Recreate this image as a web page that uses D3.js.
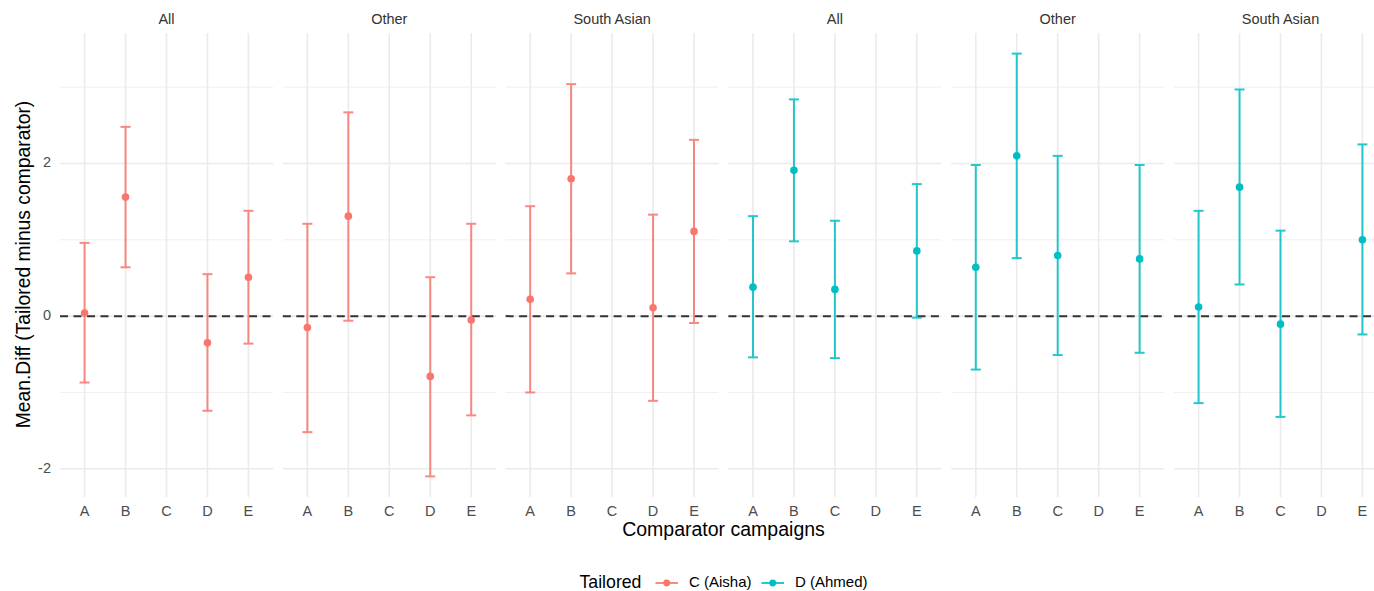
<!DOCTYPE html>
<html>
<head>
<meta charset="utf-8">
<script src="https://cdn.jsdelivr.net/npm/d3@7"></script>
<style>
  html, body { margin: 0; padding: 0; background: #fff; }
  svg { display: block; font-family: "Liberation Sans", Arial, Helvetica, sans-serif; }
</style>
</head>
<body>
<svg id="chart" width="1374" height="591"></svg>
<script>
// ---------------- data ----------------
const campaigns = ["A", "B", "C", "D", "E"];
const groups = ["All", "Other", "South Asian"];
const tailored = ["C (Aisha)", "D (Ahmed)"];
const yTicks = [-2, 0, 2];
const yMinor = [-1, 1, 3];

// C (Aisha) : per group, per campaign -> [mean, lower, upper] (null = no estimate)
const aishaAll   = [[0.04, -0.87, 0.96], [1.56, 0.64, 2.48], null, [-0.35, -1.24, 0.55], [0.51, -0.36, 1.38]];
const aishaOther = [[-0.15, -1.52, 1.21], [1.31, -0.06, 2.67], null, [-0.79, -2.10, 0.51], [-0.05, -1.30, 1.21]];
const aishaSA    = [[0.22, -1.00, 1.44], [1.80, 0.56, 3.04], null, [0.11, -1.11, 1.33], [1.11, -0.09, 2.31]];
// D (Ahmed)
const ahmedAll   = [[0.38, -0.54, 1.31], [1.91, 0.98, 2.84], [0.35, -0.55, 1.25], null, [0.855, -0.02, 1.73]];
const ahmedOther = [[0.64, -0.70, 1.98], [2.10, 0.76, 3.44], [0.795, -0.51, 2.10], null, [0.75, -0.48, 1.98]];
const ahmedSA    = [[0.12, -1.14, 1.38], [1.69, 0.415, 2.97], [-0.105, -1.32, 1.12], null, [1.00, -0.24, 2.25]];

const colors = ["#F8766D", "#00BFC4"];

// build panel list
const panelData = [
  { tailored: 0, group: 0, values: aishaAll },
  { tailored: 0, group: 1, values: aishaOther },
  { tailored: 0, group: 2, values: aishaSA },
  { tailored: 1, group: 0, values: ahmedAll },
  { tailored: 1, group: 1, values: ahmedOther },
  { tailored: 1, group: 2, values: ahmedSA }
];

// ---------------- layout ----------------
const svg = d3.select("#chart");
const panelLeft = 60, panelW = 213, panelGap = 9.8;
const panelTop = 33, panelBottom = 497;

const y = d3.scaleLinear().domain([-2.37, 3.71]).range([panelBottom, panelTop]);
const x = d3.scalePoint().domain(campaigns).range([0, panelW]).padding(0.6);

const gridCol = "#EBEBEB";
const textCol = "#4D4D4D";
const smallFont = 14.5;

panelData.forEach((p, i) => {
  const g = svg.append("g").attr("transform", `translate(${panelLeft + i * (panelW + panelGap)},0)`);

  // minor horizontal grid
  g.selectAll("line.minor").data(yMinor).enter().append("line")
    .attr("x1", 0).attr("x2", panelW)
    .attr("y1", d => y(d)).attr("y2", d => y(d))
    .attr("stroke", gridCol).attr("stroke-width", 0.8);
  // major horizontal grid
  g.selectAll("line.major").data(yTicks).enter().append("line")
    .attr("x1", 0).attr("x2", panelW)
    .attr("y1", d => y(d)).attr("y2", d => y(d))
    .attr("stroke", gridCol).attr("stroke-width", 1.6);
  // vertical grid
  g.selectAll("line.vg").data(campaigns).enter().append("line")
    .attr("x1", d => x(d)).attr("x2", d => x(d))
    .attr("y1", panelTop).attr("y2", panelBottom)
    .attr("stroke", gridCol).attr("stroke-width", 1.6);

  // strip label
  g.append("text")
    .attr("x", panelW / 2).attr("y", 20)
    .attr("text-anchor", "middle").attr("dominant-baseline", "middle")
    .attr("font-size", smallFont).attr("fill", "#333")
    .text(groups[p.group]);

  // x tick labels
  g.selectAll("text.xt").data(campaigns).enter().append("text")
    .attr("x", d => x(d)).attr("y", 512)
    .attr("text-anchor", "middle").attr("dominant-baseline", "middle")
    .attr("font-size", smallFont).attr("fill", textCol)
    .text(d => d);

  // reference line at 0
  g.append("line")
    .attr("x1", 0).attr("x2", panelW)
    .attr("y1", y(0)).attr("y2", y(0))
    .attr("stroke", "#333").attr("stroke-width", 2)
    .attr("stroke-dasharray", "8,5.5");

  const pts = campaigns.map((c, j) => ({ c, v: p.values[j] })).filter(d => d.v);
  const col = colors[p.tailored];
  const capHalf = 5;

  const eb = g.selectAll("g.eb").data(pts).enter().append("g").attr("opacity", 0.85);
  eb.append("line")
    .attr("x1", d => x(d.c)).attr("x2", d => x(d.c))
    .attr("y1", d => y(d.v[1])).attr("y2", d => y(d.v[2]))
    .attr("stroke", col).attr("stroke-width", 2);
  eb.append("line")
    .attr("x1", d => x(d.c) - capHalf).attr("x2", d => x(d.c) + capHalf)
    .attr("y1", d => y(d.v[1])).attr("y2", d => y(d.v[1]))
    .attr("stroke", col).attr("stroke-width", 2);
  eb.append("line")
    .attr("x1", d => x(d.c) - capHalf).attr("x2", d => x(d.c) + capHalf)
    .attr("y1", d => y(d.v[2])).attr("y2", d => y(d.v[2]))
    .attr("stroke", col).attr("stroke-width", 2);

  g.selectAll("circle").data(pts).enter().append("circle")
    .attr("cx", d => x(d.c)).attr("cy", d => y(d.v[0]))
    .attr("r", 3.8).attr("fill", col);
});

// y tick labels
svg.selectAll("text.yt").data(yTicks).enter().append("text")
  .attr("x", 51).attr("y", d => y(d))
  .attr("text-anchor", "end").attr("dominant-baseline", "middle")
  .attr("font-size", smallFont).attr("fill", textCol)
  .text(d => d);

// axis titles
const plotCenter = panelLeft + (6 * panelW + 5 * panelGap) / 2;
svg.append("text")
  .attr("x", plotCenter).attr("y", 531)
  .attr("text-anchor", "middle").attr("dominant-baseline", "middle")
  .attr("font-size", 19.5).attr("fill", "#000")
  .text("Comparator campaigns");

svg.append("text")
  .attr("transform", `translate(25,${(panelTop + panelBottom) / 2 - 0.5}) rotate(-90)`)
  .attr("text-anchor", "middle").attr("dominant-baseline", "middle")
  .attr("font-size", 19.3).attr("fill", "#000")
  .text("Mean.Diff (Tailored minus comparator)");

// legend
const leg = svg.append("g");
const legY = 583;
const title = leg.append("text")
  .attr("x", 0).attr("y", legY)
  .attr("dominant-baseline", "middle")
  .attr("font-size", 17.7).attr("fill", "#000")
  .text("Tailored");
let cx = title.node().getComputedTextLength() + 14;
tailored.forEach((t, i) => {
  leg.append("line")
    .attr("x1", cx).attr("x2", cx + 22.5)
    .attr("y1", legY).attr("y2", legY)
    .attr("stroke", colors[i]).attr("stroke-width", 2).attr("opacity", 0.85);
  leg.append("circle").attr("cx", cx + 11.25).attr("cy", legY).attr("r", 3.4).attr("fill", colors[i]);
  const tx = leg.append("text")
    .attr("x", cx + 33.5).attr("y", legY)
    .attr("dominant-baseline", "middle")
    .attr("font-size", 15).attr("fill", "#000")
    .text(t);
  cx = cx + 33.5 + tx.node().getComputedTextLength() + 10;
});
const legW = cx - 10;
leg.attr("transform", `translate(${plotCenter - legW / 2},0)`);
</script>
</body>
</html>
